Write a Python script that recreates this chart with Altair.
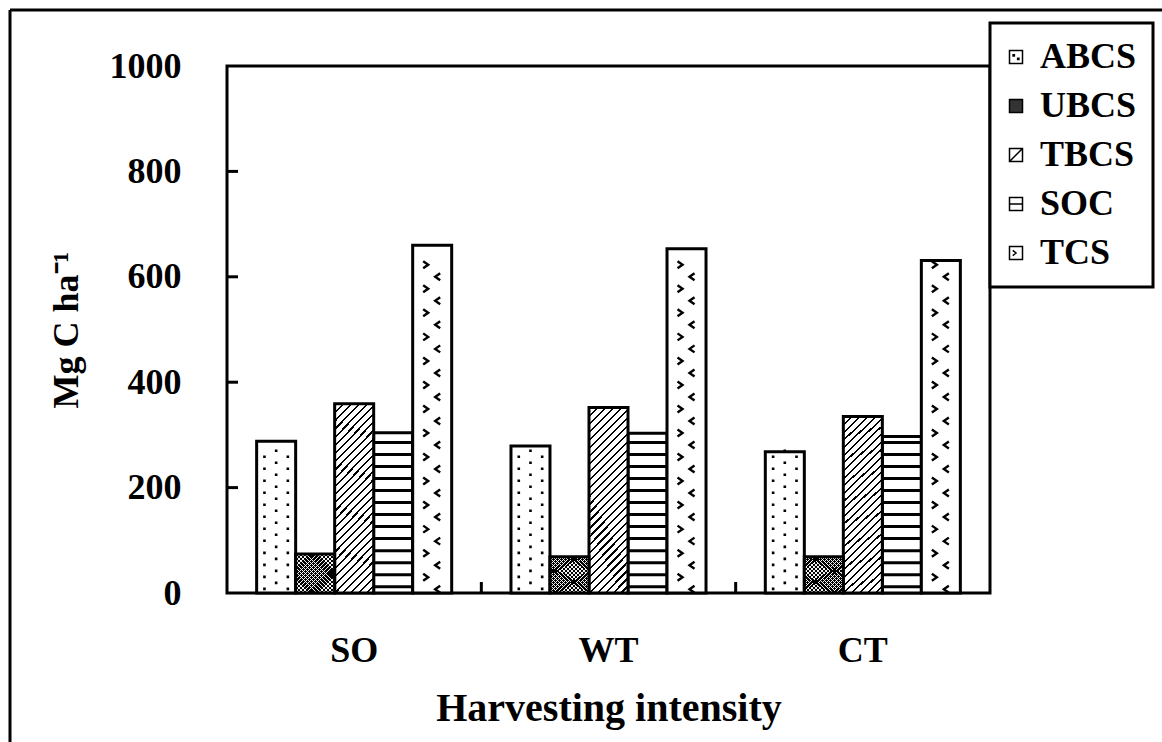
import altair as alt
import pandas as pd

# ---------------- data ----------------
categories = ["SO", "WT", "CT"]
series = ["ABCS", "UBCS", "TBCS", "SOC", "TCS"]
abcs = [288, 279, 268]
ubcs = [74, 69, 69]
tbcs = [359, 352, 335]
soc = [304, 303, 297]
tcs = [660, 653, 631]
y_ticks = [0, 200, 400, 600, 800, 1000]

rows = []
for s, vals in zip(series, [abcs, ubcs, tbcs, soc, tcs]):
    for c, v in zip(categories, vals):
        rows.append({"cat": c, "series": s, "value": v})
df = pd.DataFrame(rows)

# ---------------- styling ----------------
W, H = 763, 527
FONT = "Liberation Serif"


def stripes(n, frac, fg, bg, x1, y1, x2, y2):
    stops = []
    for i in range(n):
        a, b, c = i / n, (i + frac) / n, (i + 1) / n
        stops += [
            {"offset": round(a, 5), "color": fg},
            {"offset": round(b, 5), "color": fg},
            {"offset": round(b, 5), "color": bg},
            {"offset": round(c, 5), "color": bg},
        ]
    return {"gradient": "linear", "stops": stops,
            "x1": x1, "y1": y1, "x2": x2, "y2": y2}


hatch = stripes(28, 0.27, "black", "white", 0, 0, 0.247, 1.16)
cross1 = stripes(19, 0.2, "rgba(255,255,255,0.95)", "rgba(255,255,255,0)", 0, 0, 1, 1)
cross2 = stripes(19, 0.2, "rgba(255,255,255,0.95)", "rgba(255,255,255,0)", 0, 1, 1, 0)

xs = alt.Scale(domain=categories, paddingInner=0, paddingOuter=0)
xo = alt.Scale(domain=series, paddingInner=0, paddingOuter=0.76)
ys = alt.Scale(domain=[0, 1000], nice=False, zero=True)

x_axis = alt.Axis(title="Harvesting intensity", labelAngle=0, labelFontSize=36,
                  labelFont=FONT, labelFontWeight="bold", labelColor="black",
                  labelPadding=40, titleFontSize=40, titleFont=FONT,
                  titleFontWeight="bold", titleColor="black", titlePadding=20,
                  domain=False, ticks=False, grid=False)
y_axis = alt.Axis(title="Mg C ha⁻¹", values=y_ticks, format="d", labelFontSize=36,
                  labelFont=FONT, labelFontWeight="bold", labelColor="black",
                  labelPadding=46, titleFontSize=36, titleFont=FONT,
                  titleFontWeight="bold", titleColor="black", titlePadding=24,
                  domain=False, ticks=False, grid=False)


def X():
    return alt.X("cat:N", scale=xs, axis=x_axis, sort=categories)


def XO():
    return alt.XOffset("series:N", scale=xo, sort=series)


def Y(field):
    return alt.Y(f"{field}:Q", scale=ys, axis=y_axis)


base = alt.Chart(df)

bars_plain = base.transform_filter(
    "datum.series == 'ABCS' || datum.series == 'SOC' || datum.series == 'TCS'"
).mark_bar(fill="white", stroke="black", strokeWidth=3).encode(
    x=X(), xOffset=XO(), y=Y("value"))

bars_tbcs = base.transform_filter("datum.series == 'TBCS'").mark_bar(
    fill=hatch, stroke="black", strokeWidth=3).encode(
    x=X(), xOffset=XO(), y=Y("value"))

ub = base.transform_filter("datum.series == 'UBCS'")
bars_ubcs0 = ub.mark_bar(fill="black", strokeWidth=0).encode(
    x=X(), xOffset=XO(), y=Y("value"))
bars_ubcs1 = ub.mark_bar(fill=cross1, strokeWidth=0).encode(
    x=X(), xOffset=XO(), y=Y("value"))
bars_ubcs2 = ub.mark_bar(fill=cross2, stroke="black", strokeWidth=3).encode(
    x=X(), xOffset=XO(), y=Y("value"))

# SOC: horizontal lines
soc_lines = base.transform_filter("datum.series == 'SOC'").transform_calculate(
    s="sequence(12, datum.value - 6, 22.8)").transform_flatten(["s"]).mark_tick(
    size=39, thickness=3, color="black", opacity=1).encode(
    x=X(), xOffset=XO(), y=Y("s"))

# ABCS: dots (one symbol per pattern row; size=4 -> path units are pixels)
dot_path = "M-13,-1.2h2.6v2.6h-2.6Z M10.4,-1.2h2.6v2.6h-2.6Z M-1.3,-7.2h2.6v2.6h-2.6Z"
dots = base.transform_filter("datum.series == 'ABCS'").transform_calculate(
    s="sequence(8, datum.value - 8, 22.8)").transform_flatten(["s"]).mark_point(
    shape=dot_path, size=4, filled=True, color="black", opacity=1,
    strokeWidth=0).encode(x=X(), xOffset=XO(), y=Y("s"))

# TCS: chevrons
chev_path = "M-9,-3.5L-4,0L-9,3.5 M8,8.5L3,12L8,15.5"
chevs = base.transform_filter("datum.series == 'TCS'").transform_calculate(
    s="sequence(30, datum.value - 8, 45.6)").transform_flatten(["s"]).mark_point(
    shape=chev_path, size=4, filled=False, color="black", opacity=1,
    strokeWidth=2.4).encode(x=X(), xOffset=XO(), y=Y("s"))

# Legend (built from an empty point layer with explicit domains)
sym_paths = [
    "M-1,-1H1V1H-1Z M-0.45,-0.35h0.2v0.2h-0.2Z M0.25,0.2h0.2v0.2h-0.2Z",
    "M-1,-1H1V1H-1Z",
    "M-1,-1H1V1H-1Z M-1,1L1,-1",
    "M-1,-1H1V1H-1Z M-1,0H1",
    "M-1,-1H1V1H-1Z M-0.5,-0.4L0,0L-0.5,0.4",
]
sym_fills = ["white", "#333333", "white", "white", "white"]
leg = alt.Legend(title=None, orient="none", legendX=763, legendY=-43,
                 padding=16, strokeColor="black", fillColor="white",
                 labelFont=FONT, labelFontSize=36, labelFontWeight="bold",
                 labelColor="black", symbolSize=169, symbolStrokeColor="black",
                 symbolStrokeWidth=1.5, symbolOpacity=1, labelOffset=6,
                 symbolOffset=-8, rowPadding=13, labelLimit=400)
legend_layer = base.transform_filter("false").mark_point(
    filled=True, size=169, strokeWidth=1.5, opacity=1).encode(
    fill=alt.Fill("series:N", scale=alt.Scale(domain=series, range=sym_fills),
                  legend=leg, sort=series),
    stroke=alt.Stroke("series:N", scale=alt.Scale(domain=series, range=["black"] * 5),
                      legend=leg, sort=series),
    shape=alt.Shape("series:N", scale=alt.Scale(domain=series, range=sym_paths),
                    legend=leg, sort=series))

# inward ticks on the value axis (one small rule per inner tick value)
one = pd.DataFrame({"k": [0]})
ytick_layers = [
    alt.Chart(one).mark_rule(color="black", strokeWidth=3).encode(
        y=alt.datum(v, type="quantitative", scale=ys, axis=y_axis),
        x=alt.value(0), x2=alt.value(11))
    for v in y_ticks[1:-1]
]

# inward ticks on the category axis (between groups)
xtick_df = pd.DataFrame({"cat": categories[1:]})
xtick_layer = alt.Chart(xtick_df).mark_rule(color="black", strokeWidth=3).encode(
    x=alt.X("cat:N", scale=xs, axis=x_axis, sort=categories, bandPosition=0),
    y=alt.value(H), y2=alt.value(H - 11))

# outer frame (top and left edges visible)
frame_v = alt.Chart(one).mark_rule(color="black", strokeWidth=3).encode(
    x=alt.value(-217), y=alt.value(-56), y2=alt.value(H + 200))
frame_h = alt.Chart(one).mark_rule(color="black", strokeWidth=3).encode(
    x=alt.value(-217), x2=alt.value(W + 200), y=alt.value(-56))

chart = alt.layer(
    bars_plain, bars_tbcs, bars_ubcs0, bars_ubcs1, bars_ubcs2, soc_lines,
    dots, chevs, legend_layer, *ytick_layers, xtick_layer,
    frame_v, frame_h,
).properties(
    width=W, height=H,
    padding={"left": 227, "top": 66, "right": 1162 - 227 - W,
             "bottom": 742 - 66 - H},
    autosize=alt.AutoSizeParams(type="none"),
    background="white",
).configure_view(stroke="black", strokeWidth=3).configure_legend(strokeWidth=3)

chart.save("out.html", embed_options={"renderer": "svg", "actions": False})
